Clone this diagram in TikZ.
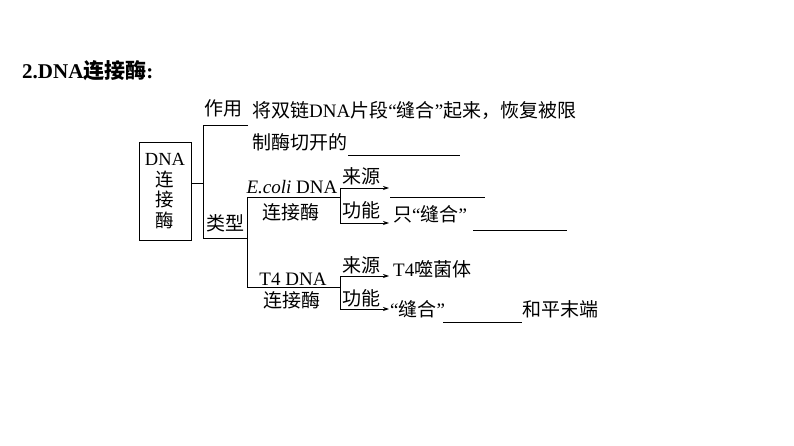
\documentclass[tikz,border=0pt]{standalone}
\usepackage{fontspec}
\setmainfont{Liberation Serif}
\newfontfamily\cjk{Noto Sans CJK SC}
\usetikzlibrary{arrows.meta,positioning}
\newcommand{\zhtext}[1]{{\cjk #1}}
\newcommand{\bodysize}{\fontsize{19}{21}\selectfont}

\begin{document}
\begin{tikzpicture}[x=1pt,y=-1pt,
    txt/.style={inner sep=0pt,font=\bodysize,anchor=west},
    mid/.style={inner sep=0pt,font=\bodysize},
    enzbox/.style={draw,line width=0.8pt,minimum width=52pt,minimum height=98pt,inner sep=0pt,align=center,font=\fontsize{18.5}{20.5}\selectfont},
    branch/.style={line width=0.8pt},
    arrow/.style={-{Stealth[length=6pt,width=4pt]},line width=0.8pt},
    blank/.style={line width=0.8pt}
  ]
    \useasboundingbox (0,0) rectangle (794,446);

    \node[anchor=west,inner sep=0pt,font=\fontsize{21}{24}\selectfont\bfseries] (title) at (22,71) {2.DNA\zhtext{连接酶}:};

    % main box and first split
    \node[enzbox] (box) at (165,191) {DNA\\\zhtext{连}\\\zhtext{接}\\\zhtext{酶}};
    \coordinate (j1) at (203,183);
    \coordinate (j1t) at (203,125);
    \coordinate (j1b) at (203,238);
    \draw[branch] (box.east |- j1) -- (j1);
    \draw[branch] (248,125) -- (j1t) -- (j1b) -- (247,238);

    \node[txt] (use) at (204,108) {\zhtext{作用}};
    \node[txt] (type) at (206,223) {\zhtext{类型}};
    \node[txt] (defa) at (252,110) {\zhtext{将双链}DNA\zhtext{片段}“\zhtext{缝合}”\zhtext{起来，恢复被限}};
    \node[txt] (defb) at (252,142) {\zhtext{制酶切开的}};
    \draw[blank] (348,155) -- (460,155);

    % two kinds
    \coordinate (j2t) at (247,197);
    \coordinate (j2b) at (247,287);
    \draw[branch] (340,197) -- (j2t) -- (j2b) -- (340,287);
    \node[inner sep=0pt,font=\bodysize,anchor=base] (ecoli) at (292,194) {\textit{E.coli} DNA};
    \node[mid] (ecolib) at (291,212) {\zhtext{连接酶}};
    \node[inner sep=0pt,font=\bodysize,anchor=base] (tfour) at (293,285) {T4 DNA};
    \node[mid] (tfourb) at (292,300) {\zhtext{连接酶}};

    % E.coli branch
    \coordinate (e1) at (340,188);
    \coordinate (e2) at (340,223);
    \draw[branch] (e1) -- (e2);
    \node[txt] (esrc) at (342,176) {\zhtext{来源}};
    \node[txt] (efun) at (342,210) {\zhtext{功能}};
    \node[txt] (eans) at (393,214) {\zhtext{只}“\zhtext{缝合}”};
    \coordinate (ea1) at (389,188);
    \coordinate (ea2) at (389,223);
    \draw[arrow] (e1) -- (ea1);
    \draw[arrow] (e2) -- (ea2);
    \draw[blank] (390,197) -- (485,197);
    \draw[blank] (473,230) -- (567,230);

    % T4 branch
    \coordinate (t1) at (340,276);
    \coordinate (t2) at (340,309);
    \draw[branch] (t1) -- (t2);
    \node[txt] (tsrc) at (342,265) {\zhtext{来源}};
    \node[txt] (tfun) at (342,298) {\zhtext{功能}};
    \node[txt] (phage) at (393,269) {T4\zhtext{噬菌体}};
    \node[txt] (tans) at (390,309) {“\zhtext{缝合}”};
    \node[txt] (tend) at (522,309) {\zhtext{和平末端}};
    \coordinate (ta1) at (389,276);
    \coordinate (ta2) at (389,309);
    \draw[arrow] (t1) -- (ta1);
    \draw[arrow] (t2) -- (ta2);
    \draw[blank] (443,322) -- (522,322);
  \end{tikzpicture}
\end{document}
